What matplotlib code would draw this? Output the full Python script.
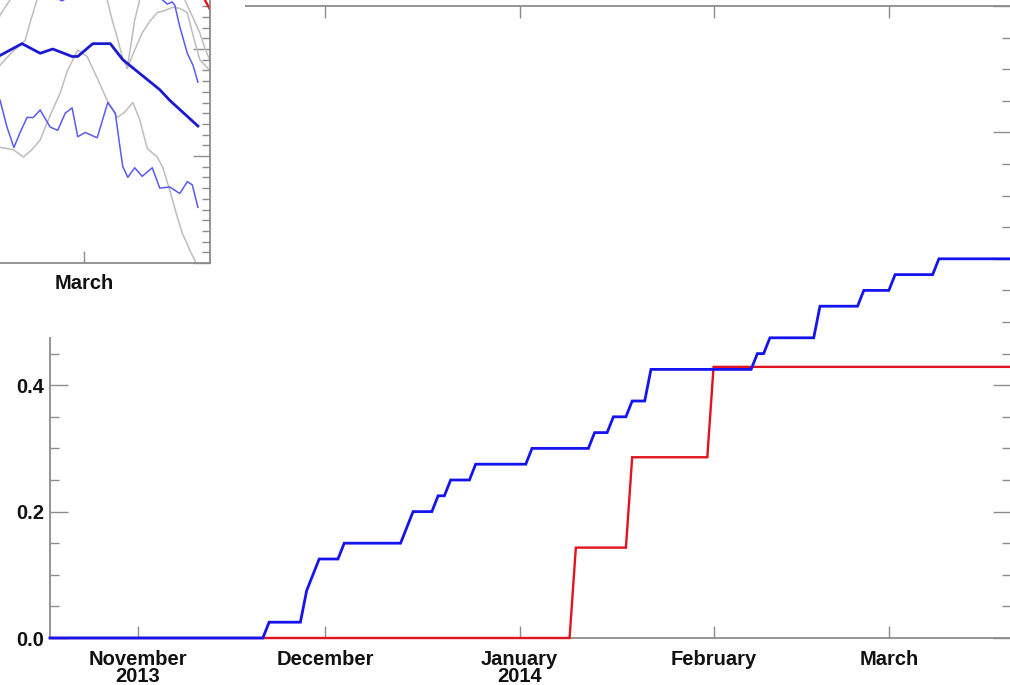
import matplotlib
matplotlib.use("Agg")
import matplotlib.pyplot as plt
import matplotlib.dates as mdates
from matplotlib.ticker import MultipleLocator
from matplotlib.patches import Rectangle
import numpy as np

plt.rcParams['font.family'] = ['Liberation Sans', 'DejaVu Sans']
plt.rcParams['font.weight'] = 'bold'

# --- main panel: cumulative fractions (daily series, step-like) ---
blue_dates = ['2013-10-18', '2013-11-21', '2013-11-22', '2013-11-27', '2013-11-28',
              '2013-11-30', '2013-12-03', '2013-12-04', '2013-12-13', '2013-12-15',
              '2013-12-18', '2013-12-19', '2013-12-20', '2013-12-21', '2013-12-24',
              '2013-12-25', '2014-01-02', '2014-01-03', '2014-01-12', '2014-01-13',
              '2014-01-15', '2014-01-16', '2014-01-18', '2014-01-19', '2014-01-21',
              '2014-01-22', '2014-02-07', '2014-02-08', '2014-02-09', '2014-02-10',
              '2014-02-17', '2014-02-18', '2014-02-24', '2014-02-25', '2014-03-01',
              '2014-03-02', '2014-03-08', '2014-03-09', '2014-03-21']
blue_vals = [0.0, 0.0, 0.025, 0.025, 0.075,
             0.125, 0.125, 0.15, 0.15, 0.2,
             0.2, 0.225, 0.225, 0.25, 0.25,
             0.275, 0.275, 0.3, 0.3, 0.325,
             0.325, 0.35, 0.35, 0.375, 0.375,
             0.425, 0.425, 0.45, 0.45, 0.475,
             0.475, 0.525, 0.525, 0.55, 0.55,
             0.575, 0.575, 0.6, 0.6]

red_dates = ['2013-10-18', '2014-01-09', '2014-01-10', '2014-01-18', '2014-01-19',
             '2014-01-31', '2014-02-01', '2014-03-21']
red_vals = [0.0, 0.0, 0.143, 0.143, 0.286, 0.286, 0.429, 0.429]

month_ticks = ['2013-11-01', '2013-12-01', '2014-01-01', '2014-02-01', '2014-03-01']
month_labels = ['November\n2013', 'December', 'January\n2014', 'February', 'March']

# --- inset panel (only its lower right corner is in view) ---
# days relative to 1 March 2014
thick_days = [-14.2, -13.4, -9.9, -7.0, -5.0, -1.9, -1.0, 1.4, 4.2, 6.2, 12.1, 13.7, 18.2]
thick_vals = [1.93, 1.94, 2.05, 1.96, 2.00, 1.93, 1.93, 2.05, 2.05, 1.90, 1.62, 1.52, 1.28]

thin_lo_days = [-14.0, -13.4, -12.3, -11.2, -10.2, -9.1, -8.1, -7.0, -5.4, -4.2, -3.0, -1.9,
                -1.0, 0.2, 2.1, 3.8, 5.0, 5.8, 6.2, 7.0, 8.1, 9.3, 10.9, 12.1, 13.7,
                15.3, 16.5, 17.3, 18.2]
thin_lo_vals = [1.57, 1.52, 1.27, 1.08, 1.22, 1.36, 1.36, 1.43, 1.27, 1.24, 1.40, 1.45,
                1.18, 1.22, 1.17, 1.50, 1.40, 1.06, 0.90, 0.80, 0.89, 0.81, 0.89, 0.70, 0.71,
                0.65, 0.76, 0.73, 0.52]

thin_hi_days = [-5.1, -4.2, -3.5, -2.9, -1.9, 2.6, 10.5, 11.8, 12.5, 13.3, 14.1, 14.5,
                15.3, 16.5, 17.4, 18.2]
thin_hi_vals = [2.55, 2.47, 2.45, 2.47, 2.55, 2.83, 2.60, 2.50, 2.46, 2.42, 2.44, 2.41,
                2.21, 1.96, 1.85, 1.69]

red_in_days = [18.5, 19.3, 20.4, 21.4]
red_in_vals = [2.55, 2.46, 2.34, 2.22]

gray_days = [
    [-13.9, -13.4, -11.8, -11.2],
    [-13.9, -13.4, -11.5, -9.4, -8.5, -7.5, -7.0],
    [-13.9, -13.4, -11.3, -9.7, -8.3, -7.0, -5.4, -3.8, -2.7, -1.0, 0.5, 2.1, 3.7,
     5.3, 6.5, 7.8, 8.9, 10.1, 11.7, 12.6, 13.7, 14.9, 15.7, 16.9, 17.9],
    [3.2, 3.7, 4.5, 5.3, 6.1, 6.9, 7.5, 8.1, 8.9, 9.4],
    [6.9, 8.1, 9.3, 10.4, 11.7, 12.9, 14.2, 15.3, 16.5, 17.4, 18.5, 20.1],
    [15.3, 16.1, 17.2, 18.5, 19.3, 20.4],
]
gray_vals = [
    [2.22, 2.32, 2.46, 2.53],
    [1.80, 1.85, 1.97, 2.08, 2.27, 2.46, 2.55],
    [1.10, 1.08, 1.06, 0.99, 1.06, 1.15, 1.38, 1.59, 1.79, 1.99, 1.93, 1.73, 1.52,
     1.36, 1.41, 1.50, 1.34, 1.07, 0.99, 0.89, 0.68, 0.43, 0.28, 0.12, 0.0],
    [2.53, 2.46, 2.27, 2.11, 1.93, 1.82, 2.04, 2.27, 2.46, 2.53],
    [1.82, 1.99, 2.15, 2.25, 2.34, 2.36, 2.39, 2.38, 2.34, 2.13, 1.90, 1.80],
    [2.53, 2.46, 2.32, 2.15, 2.01, 1.85],
]

W, H = 1010, 685
frame_col = '#8c8c8c'
d2n = lambda s: mdates.datestr2num(s)

fig = plt.figure(figsize=(W / 100, H / 100), dpi=100)

# main axes
ax = fig.add_axes([50 / W, 1 - 638 / H, 961 / W, 632 / H])
ax.set_zorder(0)
x0 = d2n('2013-10-18')
x1 = x0 + 961 / 6.26
ax.plot([d2n(s) for s in red_dates], red_vals, color='#e0141e', lw=1.7,
        solid_joinstyle='miter', clip_on=False, zorder=3)
ax.plot([d2n(s) for s in blue_dates], blue_vals, color='#1414f0', lw=2.0,
        solid_joinstyle='miter', clip_on=False, zorder=4)
ax.set_xlim(x0, x1)
ax.set_ylim(0, 1.0)
ax.set_xticks([d2n(s) for s in month_ticks])
ax.set_xticklabels(month_labels)
for t in ax.get_xticklabels():
    t.set_linespacing(0.86)
ax.set_yticks([0.0, 0.2, 0.4, 0.6, 0.8, 1.0])
ax.set_yticklabels(['0.0', '0.2', '0.4', '0.6', '0.8', '1.0'])
ax.yaxis.set_minor_locator(MultipleLocator(0.05))
ax.tick_params(axis='both', which='both', direction='in', top=True, right=True,
               color=frame_col, width=1.0, labelsize=14.5, labelcolor='#111111')
ax.tick_params(axis='x', which='major', length=8.5, pad=8.5)
ax.tick_params(axis='y', which='major', length=13, pad=4)
ax.tick_params(axis='y', which='minor', length=6.5)
for sp in ax.spines.values():
    sp.set_color(frame_col)
    sp.set_linewidth(1.3)

# white block under the inset panel
fig.add_artist(Rectangle((0, 1 - 337 / H), 245 / W, 337 / H, transform=fig.transFigure,
                         facecolor='white', edgecolor='none', zorder=1))

# inset axes, mostly outside the picture
mar1 = d2n('2014-03-01')
ax2 = fig.add_axes([-200 / W, 1 - 263 / H, 410 / W, 321 / H])
ax2.set_zorder(2)
for dd, vv in zip(gray_days, gray_vals):
    ax2.plot(mar1 + np.array(dd), vv, color='#bdbdbd', lw=1.1)
ax2.plot(mar1 + np.array(thin_lo_days), thin_lo_vals, color='#5a5af0', lw=1.1)
ax2.plot(mar1 + np.array(thin_hi_days), thin_hi_vals, color='#5a5af0', lw=1.1)
ax2.plot(mar1 + np.array(thick_days), thick_vals, color='#1a1ad2', lw=2.0)
ax2.plot(mar1 + np.array(red_in_days), red_in_vals, color='#e0141e', lw=1.7)
ax2.set_xlim(mar1 - 284 / 6.26, mar1 + 126 / 6.26)
ax2.set_ylim(0, 3)
ax2.set_xticks([mar1])
ax2.set_xticklabels(['March'])
ax2.set_yticks([0, 1, 2, 3])
ax2.set_yticklabels([])
ax2.yaxis.set_minor_locator(MultipleLocator(0.1))
ax2.tick_params(axis='both', which='both', direction='in', top=True, right=True,
                color=frame_col, width=1.0, labelsize=14.5, labelcolor='#111111')
ax2.tick_params(axis='x', which='major', length=8.5, pad=8)
ax2.tick_params(axis='y', which='major', length=12)
ax2.tick_params(axis='y', which='minor', length=6)
for sp in ax2.spines.values():
    sp.set_color(frame_col)
    sp.set_linewidth(1.3)

fig.savefig('out.png', dpi=100)
